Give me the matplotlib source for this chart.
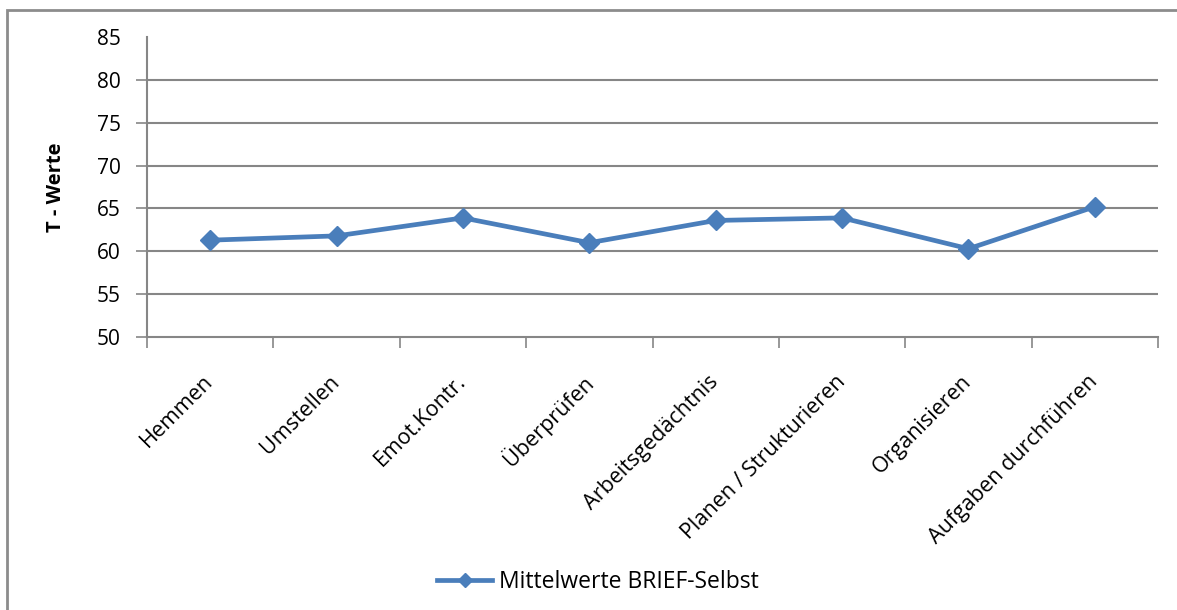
import numpy as np
import matplotlib.pyplot as plt
from matplotlib.patches import Rectangle
from matplotlib.lines import Line2D

# BRIEF self-report mean T-scores per scale
categories = ["Hemmen", "Umstellen", "Emot.Kontr.", "Überprüfen",
              "Arbeitsgedächtnis", "Planen / Strukturieren",
              "Organisieren", "Aufgaben durchführen"]
t_values = [61.3, 61.8, 63.9, 61.0, 63.6, 63.9, 60.3, 65.2]
series_name = "Mittelwerte BRIEF-Selbst"
y_ticks = [50, 55, 60, 65, 70, 75, 80, 85]

plt.rcParams['font.family'] = ['Open Sans', 'DejaVu Sans']

line_color = "#4A7EBB"
grid_color = "#868686"

fig = plt.figure(figsize=(11.77, 6.10), dpi=100)
ax = fig.add_axes([0.1249, 0.4475, 0.8590, 0.4918])

# outer chart frame, partly cut off at right and bottom
fig.patches.append(Rectangle((7 / 1177, -0.05), 1.2, (610 - 10) / 610 + 0.05,
                             transform=fig.transFigure, fill=False,
                             edgecolor="#8c8c8c", linewidth=2))

x = np.arange(len(categories))
ax.plot(x, t_values, color=line_color, linewidth=3.4, marker="D",
        markersize=10.5, markeredgecolor=line_color, zorder=3,
        solid_joinstyle="round")

ax.set_xlim(-0.5, len(categories) - 0.5)
ax.set_ylim(50, 85)
ax.set_yticks(y_ticks)
ax.tick_params(axis="y", labelsize=15, length=8, width=1.2,
               color=grid_color, pad=11)
# no tick mark at the top value
ax.yaxis.get_major_ticks()[-1].tick1line.set_visible(False)

# category labels at centres, tick marks at category boundaries
ax.set_xticks(x)
ax.set_xticklabels(categories, rotation=45, ha="right", va="center",
                   rotation_mode="anchor", fontsize=15.5)
ax.tick_params(axis="x", which="major", length=0, pad=30)
ax.set_xticks(np.arange(-0.5, len(categories)), minor=True)
ax.tick_params(axis="x", which="minor", length=8, width=1.2, color=grid_color)

for yv in y_ticks[1:-1]:
    ax.axhline(yv, color=grid_color, linewidth=1.5, zorder=1)

for side in ["top", "right"]:
    ax.spines[side].set_visible(False)
for side in ["left", "bottom"]:
    ax.spines[side].set_color(grid_color)
    ax.spines[side].set_linewidth(1.5)

ax.set_ylabel("T - Werte", fontsize=14.5, fontweight="bold", labelpad=22)

handle = Line2D([], [], color=line_color, linewidth=3.4, marker="D",
                markersize=7, markeredgecolor=line_color)
fig.legend([handle], [series_name], loc="center",
           bbox_to_anchor=(598 / 1177, 1 - 582 / 610), frameon=False,
           fontsize=16.5, handlelength=2.4, handletextpad=0.3)

fig.savefig("out.png", dpi=100)
